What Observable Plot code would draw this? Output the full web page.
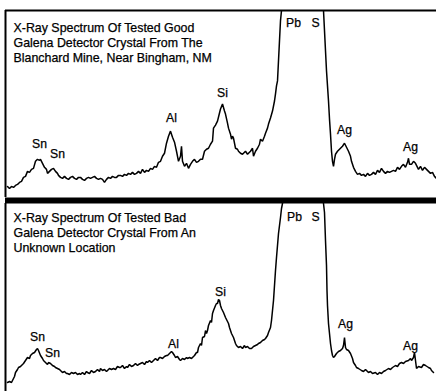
<!DOCTYPE html>
<html>
<head>
<meta charset="utf-8">
<script src="https://cdn.jsdelivr.net/npm/d3@7"></script>
<script src="https://cdn.jsdelivr.net/npm/@observablehq/plot@0.6"></script>
<style>
  html, body { margin: 0; padding: 0; background: #fff; }
  #chart { width: 436px; height: 391px; overflow: hidden; }
  #chart svg { display: block; }
</style>
</head>
<body>
<div id="chart"></div>
<script>
// Channel numbers (x) and counts (y).
const goodChannel = [2,4,6,8,10,12,14,16,18,20,22,24,26,28,30,32,34,35,37,39,41,42,44,46,48,50,52,53,55,57,59,61,63,65,67,69,71,73,75,77,79,81,83,85,87,89,91,93,95,97,99,101,103,105,107,109,111,113,115,117,119,121,123,125,127,129,131,133,135,137,139,141,143,145,147,149,151,153,155,157,159,161,163,165,167,169,171,173,175,176,177,179,181,183,185,187,189,191,193,195,197,199,201,203,205,207,208,210,212,214,215,217,219,220,222,223,225,226,227,228,230,232,233,235,237,239,240,242,243,245,247,248,250,252,254,255,257,259,260,262,263,265,267,269,270,271,272,273,274,275,276,278,316,318,319,320,321,322,323,324,325,326,327,328,329,330,332,335,337,339,341,343,345,346,348,350,352,354,356,358,360,362,364,366,368,370,372,374,376,378,380,382,384,386,388,390,392,394,396,398,400,402,403,404,406,408,410,412,413,415,417,419,421,423,425,427,429,431];
const goodCounts  = [11,9,11,10,12,13,15,16,20,21,26,25,28,29,36,38,37,38,34,30,28,24,26,28,29,26,24,22,20,19,21,19,18,20,21,19,18,20,20,18,17,19,20,19,20,21,19,18,19,18,15,18,20,19,21,20,20,22,22,21,23,22,24,23,25,23,24,26,24,28,25,27,26,29,28,31,30,35,36,41,44,54,61,66,60,55,46,36,41,51,36,31,34,29,33,36,38,35,36,38,38,46,48,49,53,56,69,72,76,84,88,93,86,83,74,69,63,58,61,59,49,48,46,44,43,45,46,43,44,46,49,41,46,49,53,58,56,61,64,69,73,79,86,96,103,111,116,136,156,176,186,201,201,186,166,146,126,111,96,78,63,46,36,31,38,43,46,49,51,54,50,46,41,36,30,26,23,24,22,23,21,24,22,23,25,23,27,25,29,26,24,26,25,26,27,26,30,28,31,33,30,35,39,33,33,36,34,30,28,31,27,30,28,26,24,25,21,19];

const badChannel = [2,4,6,7,9,10,12,13,15,17,18,20,22,24,25,27,29,31,32,33,35,37,38,40,42,43,45,47,49,50,52,54,55,57,59,61,62,64,66,68,70,72,74,75,77,79,81,82,84,86,88,90,92,94,95,97,99,101,102,104,106,108,110,112,114,115,117,119,121,122,124,126,128,130,132,133,135,137,139,141,142,144,146,148,150,152,154,155,157,159,161,162,164,166,167,169,170,172,174,175,177,179,181,182,184,186,187,189,191,192,193,195,196,197,199,200,201,202,203,205,206,207,208,210,211,212,213,214,215,216,218,220,221,223,224,226,228,230,231,233,235,237,239,240,242,244,246,248,250,252,253,255,257,259,260,262,263,265,266,267,268,269,270,271,272,273,274,275,276,277,278,317,318,319,320,321,321.5,322,323,324,325,326,327,328,329,331,333,335,337,338,339,340,341,343,345,347,348,350,351,353,356,358,360,363,365,367,370,372,374,376,378,380,383,385,387,390,392,394,396,398,400,403,405,406,408,409,410,411,413,416,418,420,423,425,426,428,431];
const badCounts  = [9,10,9,11,15,19,22,24,25,27,28,31,34,33,36,38,39,42,43,41,36,33,31,29,27,29,28,26,25,24,23,22,21,19,20,18,18,17,19,18,19,17,18,17,19,17,20,19,18,21,19,20,22,20,23,21,22,20,21,23,22,23,22,25,24,24,26,23,25,24,27,25,26,28,26,27,28,29,27,30,29,31,29,31,33,31,34,34,33,35,36,36,38,40,39,36,34,35,32,31,33,32,34,33,34,33,34,36,39,39,44,48,46,54,55,61,58,61,66,71,69,78,81,86,88,88,92,91,86,83,79,74,72,68,64,58,54,48,46,44,45,43,46,44,45,43,43,45,46,47,48,49,51,52,53,56,59,64,71,81,91,106,121,134,146,158,166,174,183,188,196,196,188,179,151,126,101,86,68,58,48,41,36,34,35,38,40,41,43,46,54,44,42,41,38,33,29,26,24,23,21,20,22,19,20,18,19,17,19,18,20,21,23,22,24,26,25,28,29,28,30,31,33,31,34,39,31,23,25,24,27,26,24,23,21,19];

// Peak labels
const labelText = ["Sn", "Sn", "Al", "Si", "Pb", "S", "Ag", "Ag"];
const goodLabelChannel = [34, 52, 166, 217, 288, 310, 339, 405];
const goodLabelCounts  = [53, 43, 79, 104, 173, 173, 67, 50];
const badLabelChannel  = [32, 47, 168, 215, 289, 310, 340, 405];
const badLabelCounts   = [54, 38, 47, 99, 174, 174, 67, 45];

const goodTitle = "X-Ray Spectrum Of Tested Good\nGalena Detector Crystal From The\nBlanchard Mine, Near Bingham, NM";
const badTitle = "X-Ray Spectrum Of Tested Bad\nGalena Detector Crystal From An\nUnknown Location";

const FONT = "'Liberation Sans', Arial, Helvetica, sans-serif";

function zip(xs, ys, extra) {
  return xs.map((x, i) => ({x, y: ys[i], ...(extra ? {t: extra[i]} : {})}));
}

function panel({channel, counts, labelCh, labelCt, title, height, marginTop, yMax, topWidth, titleDy}) {
  return Plot.plot({
    width: 436,
    height,
    marginTop,
    marginBottom: 0,
    marginLeft: 5,
    marginRight: 0,
    style: {background: "white", fontFamily: FONT},
    x: {domain: [0, 431], axis: null},
    y: {domain: [0, yMax], axis: null},
    marks: [
      Plot.line(zip(channel, counts), {x: "x", y: "y", stroke: "black", strokeWidth: 1.5, clip: true, strokeLinejoin: "miter"}),
      Plot.ruleX([0], {stroke: "black", strokeWidth: 2}),
      Plot.ruleY([yMax], {stroke: "black", strokeWidth: topWidth, dy: topWidth > 2 ? -topWidth / 2 : 0}),
      Plot.text([title], {
        frameAnchor: "top-left", textAnchor: "start", lineAnchor: "top",
        dx: 8, dy: titleDy, fontSize: 12.4, lineHeight: 1.21, fill: "black",
        stroke: "black", strokeWidth: 0.25, fontFamily: FONT
      }),
      Plot.text(zip(labelCh, labelCt, labelText), {
        x: "x", y: "y", text: "t", fontSize: 12.2, fill: "black",
        stroke: "black", strokeWidth: 0.25, fontFamily: FONT,
        textAnchor: "middle", lineAnchor: "middle"
      })
    ]
  });
}

const topPanel = panel({
  channel: goodChannel, counts: goodCounts,
  labelCh: goodLabelChannel, labelCt: goodLabelCounts,
  title: goodTitle, height: 197, marginTop: 10, yMax: 186, topWidth: 2, titleDy: 10.4
});
const bottomPanel = panel({
  channel: badChannel, counts: badCounts,
  labelCh: badLabelChannel, labelCt: badLabelCounts,
  title: badTitle, height: 194, marginTop: 6, yMax: 188, topWidth: 6, titleDy: 7.4
});
const el = document.getElementById("chart");
el.appendChild(topPanel);
el.appendChild(bottomPanel);
</script>
</body>
</html>
